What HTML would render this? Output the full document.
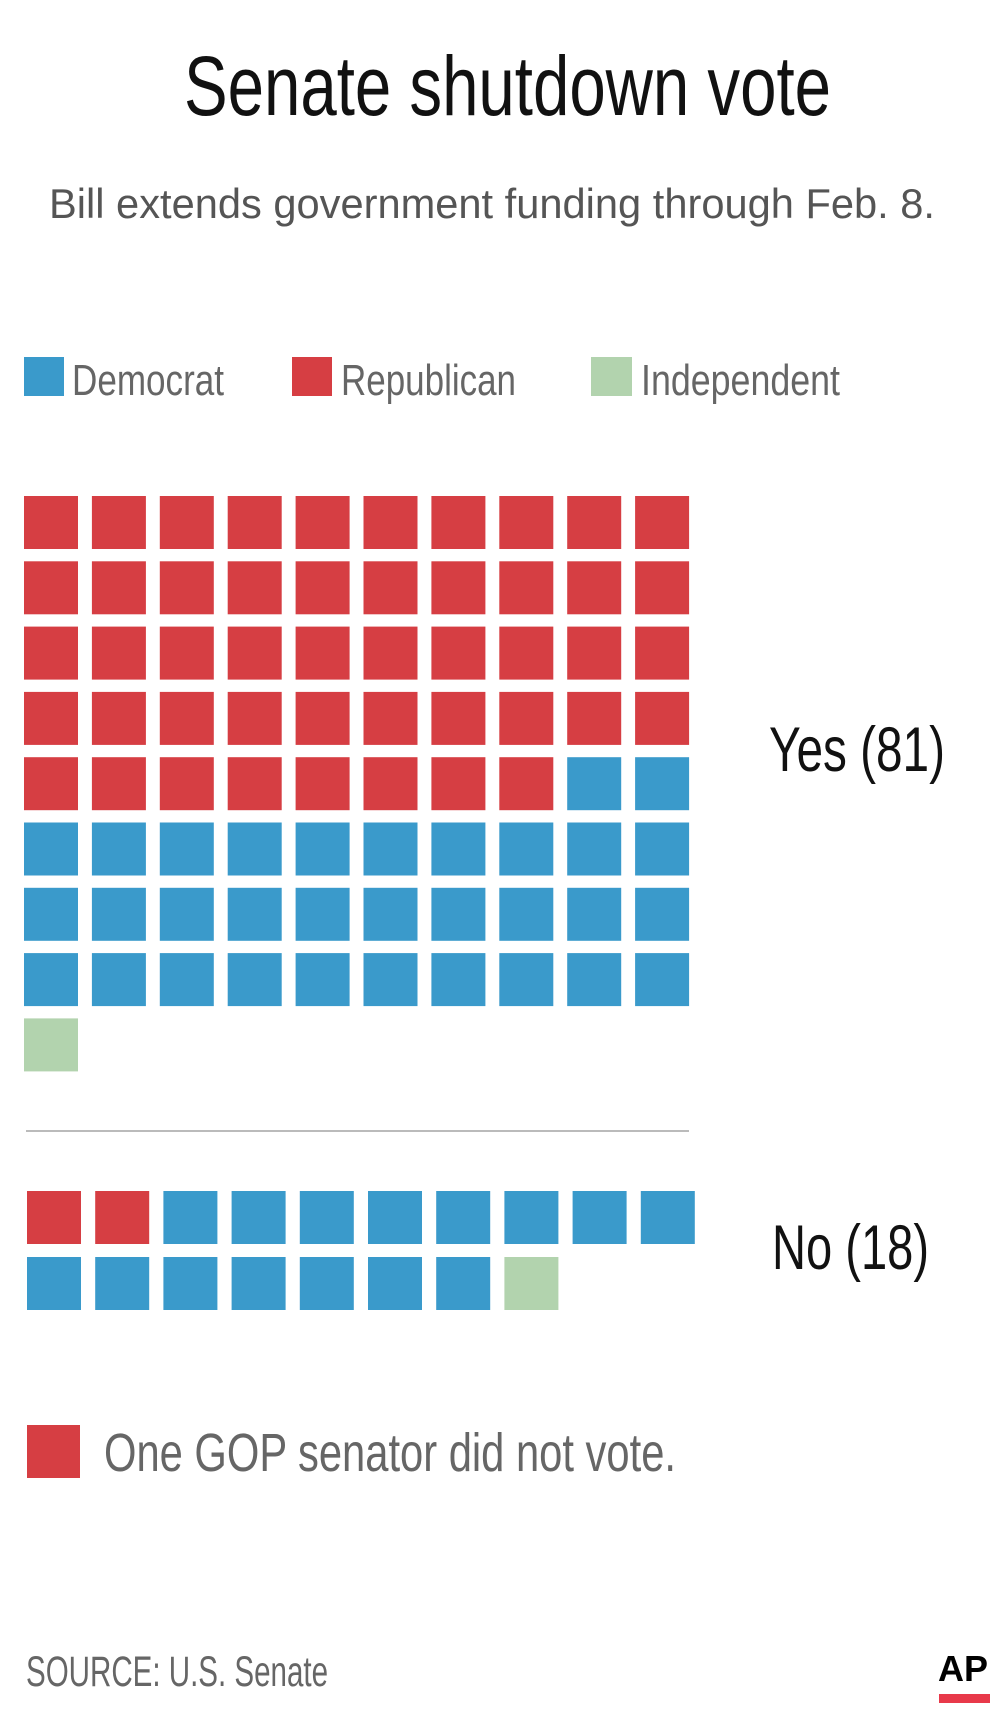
<!DOCTYPE html>
<html><head><meta charset="utf-8"><style>
html,body{margin:0;padding:0;background:#fff}
svg{display:block}
text{font-family:"Liberation Sans Narrow","Liberation Sans",sans-serif}
</style></head><body>
<svg id="chart" width="1000" height="1729" viewBox="0 0 1000 1729" xmlns="http://www.w3.org/2000/svg">
<rect width="1000" height="1729" fill="#fff"/>
<text x="184" y="115" font-size="84" fill="#111" textLength="647" lengthAdjust="spacingAndGlyphs">Senate shutdown vote</text>
<text x="49" y="218" font-size="42" fill="#555" textLength="886" lengthAdjust="spacingAndGlyphs">Bill extends government funding through Feb. 8.</text>
<g>
<rect x="24" y="357" width="40" height="39" fill="#3a9acb"/>
<text x="72" y="395" font-size="44" fill="#666" textLength="152" lengthAdjust="spacingAndGlyphs">Democrat</text>
<rect x="292" y="357" width="40" height="39" fill="#d63e43"/>
<text x="341" y="395" font-size="44" fill="#666" textLength="175" lengthAdjust="spacingAndGlyphs">Republican</text>
<rect x="591" y="357" width="41" height="39" fill="#b2d3ae"/>
<text x="641" y="395" font-size="44" fill="#666" textLength="199" lengthAdjust="spacingAndGlyphs">Independent</text>
</g>
<g id="yesGrid"></g>
<g id="noGrid"></g>
<text x="769" y="771" font-size="63" fill="#111" textLength="176" lengthAdjust="spacingAndGlyphs">Yes (81)</text>
<line x1="26" y1="1131" x2="689" y2="1131" stroke="#bbb" stroke-width="2"/>
<text x="772" y="1269" font-size="63" fill="#111" textLength="157" lengthAdjust="spacingAndGlyphs">No (18)</text>
<rect x="27" y="1425" width="53" height="53" fill="#d63e43"/>
<text x="104" y="1471" font-size="54" fill="#666" textLength="572" lengthAdjust="spacingAndGlyphs">One GOP senator did not vote.</text>
<text x="26" y="1686" font-size="43" fill="#666" textLength="302" lengthAdjust="spacingAndGlyphs">SOURCE: U.S. Senate</text>
<text x="938" y="1681" font-size="36" font-weight="bold" fill="#000" font-family="Liberation Sans" textLength="50" lengthAdjust="spacingAndGlyphs">AP</text>
<rect x="939" y="1694" width="51" height="9" fill="#e8394a"/>
</svg>
<script>
const parties = ["Republican", "Democrat", "Independent"];
const yesCounts = [48, 32, 1];
const noCounts = [2, 15, 1];
const colors = {Republican: "#d63e43", Democrat: "#3a9acb", Independent: "#b2d3ae"};
const NS = "http://www.w3.org/2000/svg";
function drawGrid(g, counts, x0, y0, pitchX, pitchY, size, prefix) {
  let idx = 0;
  counts.forEach(function (n, p) {
    for (let k = 0; k < n; k++) {
      const col = idx % 10, row = Math.floor(idx / 10);
      const r = document.createElementNS(NS, "rect");
      r.setAttribute("x", x0 + col * pitchX);
      r.setAttribute("y", y0 + row * pitchY);
      r.setAttribute("width", size);
      r.setAttribute("height", size - 1);
      r.setAttribute("fill", colors[parties[p]]);
      
      
      g.appendChild(r);
      idx++;
    }
  });
}
drawGrid(document.getElementById("yesGrid"), yesCounts, 24, 496, 67.9, 65.3, 54, "yes");
drawGrid(document.getElementById("noGrid"), noCounts, 27, 1191, 68.2, 66, 54, "no");
</script>
</body></html>
